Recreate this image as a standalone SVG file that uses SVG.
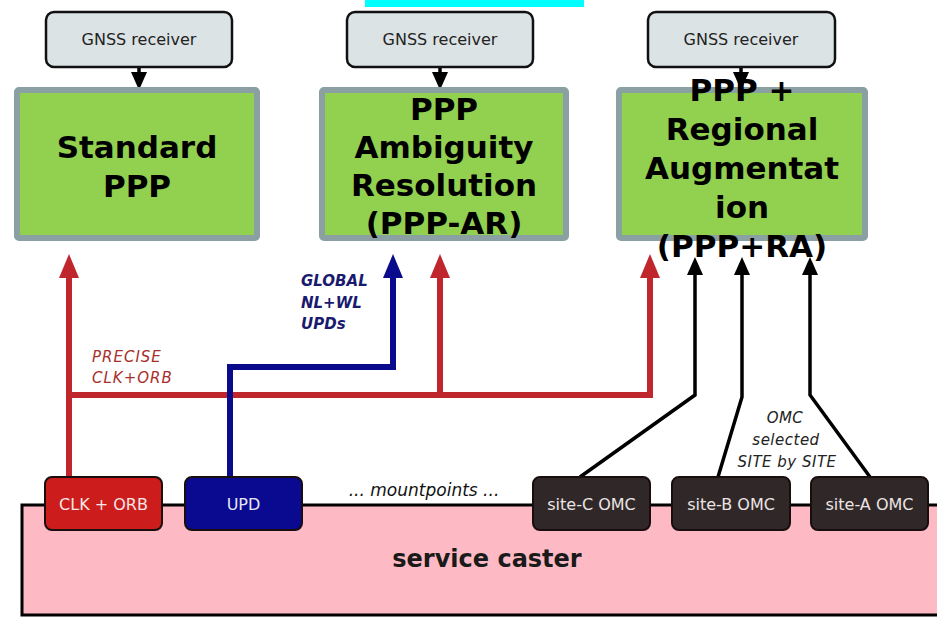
<svg xmlns="http://www.w3.org/2000/svg" width="937" height="617" viewBox="0 0 937 617">
<defs>
<style>
.gnss rect{fill:#dbe3e5;stroke:#111;stroke-width:2.5}
.gnss text{font-family:"DejaVu Sans",sans-serif;font-size:16px;fill:#222;text-anchor:middle}
.mode rect{fill:#92d050;stroke:#8aa0a2;stroke-width:6}
.mode text{font-family:"DejaVu Sans",sans-serif;font-weight:bold;font-size:31px;fill:#000;text-anchor:middle}
.mp rect{stroke:#1a0d0d;stroke-width:2}
.mp text{font-family:"DejaVu Sans",sans-serif;font-size:16px;text-anchor:middle}
.red{fill:none;stroke:#c0272d;stroke-width:6}
.blue{fill:none;stroke:#0a0a8c;stroke-width:6}
.blk{fill:none;stroke:#000;stroke-width:3.5}
.lbl{font-family:"DejaVu Sans",sans-serif;font-style:italic;font-size:15px}
</style>
<marker id="ar" markerUnits="userSpaceOnUse" markerWidth="24" markerHeight="20" refX="0" refY="10" orient="auto" overflow="visible"><path d="M0,0 L24,10 L0,20 Z" fill="#c0272d"/></marker>
<marker id="ab" markerUnits="userSpaceOnUse" markerWidth="24" markerHeight="20" refX="0" refY="10" orient="auto" overflow="visible"><path d="M0,0 L24,10 L0,20 Z" fill="#0a0a8c"/></marker>
<marker id="ak" markerUnits="userSpaceOnUse" markerWidth="18" markerHeight="16" refX="0" refY="8" orient="auto" overflow="visible"><path d="M0,0 L18,8 L0,16 Z" fill="#000"/></marker>
</defs>
<rect x="365" y="0" width="219" height="7" fill="#00ffff"/>
<g id="service-caster">
<rect x="22" y="505" width="930" height="110" fill="#fdbac4" stroke="#000" stroke-width="3"/>
<text x="487" y="567" font-family="DejaVu Sans,sans-serif" font-weight="bold" font-size="24" fill="#1a1a1a" text-anchor="middle">service caster</text>
</g>
<g id="connectors">
<path class="blk" d="M139,67 V72" marker-end="url(#ak)"/>
<path class="blk" d="M440,67 V72" marker-end="url(#ak)"/>
<path class="blk" d="M741,67 V72" marker-end="url(#ak)"/>
<path class="red" d="M69,477 V278" marker-end="url(#ar)"/>
<path class="red" d="M69,395 H650 V278" marker-end="url(#ar)"/>
<path class="red" d="M440,395 V278" marker-end="url(#ar)"/>
<path class="blue" d="M230,477 V367 H393 V278" marker-end="url(#ab)"/>
<path class="blk" d="M580,477 L695,395 V275" marker-end="url(#ak)"/>
<path class="blk" d="M718,477 L742,397 V275" marker-end="url(#ak)"/>
<path class="blk" d="M870,477 L810,395 V275" marker-end="url(#ak)"/>
<text class="lbl" fill="#a8302c" letter-spacing="1"><tspan x="92" y="362">PRECISE</tspan><tspan x="92" y="383">CLK+ORB</tspan></text>
<text class="lbl" fill="#1a1a6e" font-weight="bold"><tspan x="301" y="286">GLOBAL</tspan><tspan x="301" y="308">NL+WL</tspan><tspan x="301" y="329">UPDs</tspan></text>
<text class="lbl" fill="#222" text-anchor="middle" letter-spacing="0.5"><tspan x="785" y="423">OMC</tspan><tspan x="786" y="445">selected</tspan><tspan x="787" y="467">SITE by SITE</tspan></text>
<text x="424" y="496" font-family="DejaVu Sans,sans-serif" font-style="italic" font-size="17" fill="#111" text-anchor="middle">... mountpoints ...</text>
</g>
<g id="gnss1" class="gnss"><rect x="46" y="12" width="186" height="55" rx="8"/><text x="139" y="45">GNSS receiver</text></g>
<g id="gnss2" class="gnss"><rect x="347" y="12" width="186" height="55" rx="8"/><text x="440" y="45">GNSS receiver</text></g>
<g id="gnss3" class="gnss"><rect x="648" y="12" width="187" height="55" rx="8"/><text x="741" y="45">GNSS receiver</text></g>
<g id="standard-ppp" class="mode"><rect x="17" y="90" width="240" height="148" rx="2"/><text x="137" y="158">Standard</text><text x="137" y="197">PPP</text></g>
<g id="ppp-ar" class="mode"><rect x="322" y="90" width="244" height="148" rx="2"/><text x="444" y="120">PPP</text><text x="444" y="158">Ambiguity</text><text x="444" y="196">Resolution</text><text x="444" y="234">(PPP-AR)</text></g>
<g id="ppp-ra" class="mode"><rect x="619" y="90" width="246" height="148" rx="2"/><text x="742" y="101">PPP +</text><text x="742" y="140">Regional</text><text x="742" y="179">Augmentat</text><text x="742" y="218">ion</text><text x="742" y="257">(PPP+RA)</text></g>
<g id="clk-orb" class="mp"><rect x="45" y="477" width="117" height="53" rx="7" fill="#cc1c1c"/><text x="103.5" y="510" fill="#f4e6e6">CLK + ORB</text></g>
<g id="upd" class="mp"><rect x="185" y="477" width="117" height="53" rx="7" fill="#0a0a90"/><text x="243.5" y="510" fill="#e6e6f4">UPD</text></g>
<g id="site-c" class="mp"><rect x="533" y="477" width="117" height="53" rx="7" fill="#302828"/><text x="591.5" y="510" fill="#ece4e4">site-C OMC</text></g>
<g id="site-b" class="mp"><rect x="672" y="477" width="118" height="53" rx="7" fill="#302828"/><text x="731" y="510" fill="#ece4e4">site-B OMC</text></g>
<g id="site-a" class="mp"><rect x="811" y="477" width="117" height="53" rx="7" fill="#302828"/><text x="869.5" y="510" fill="#ece4e4">site-A OMC</text></g>
</svg>
